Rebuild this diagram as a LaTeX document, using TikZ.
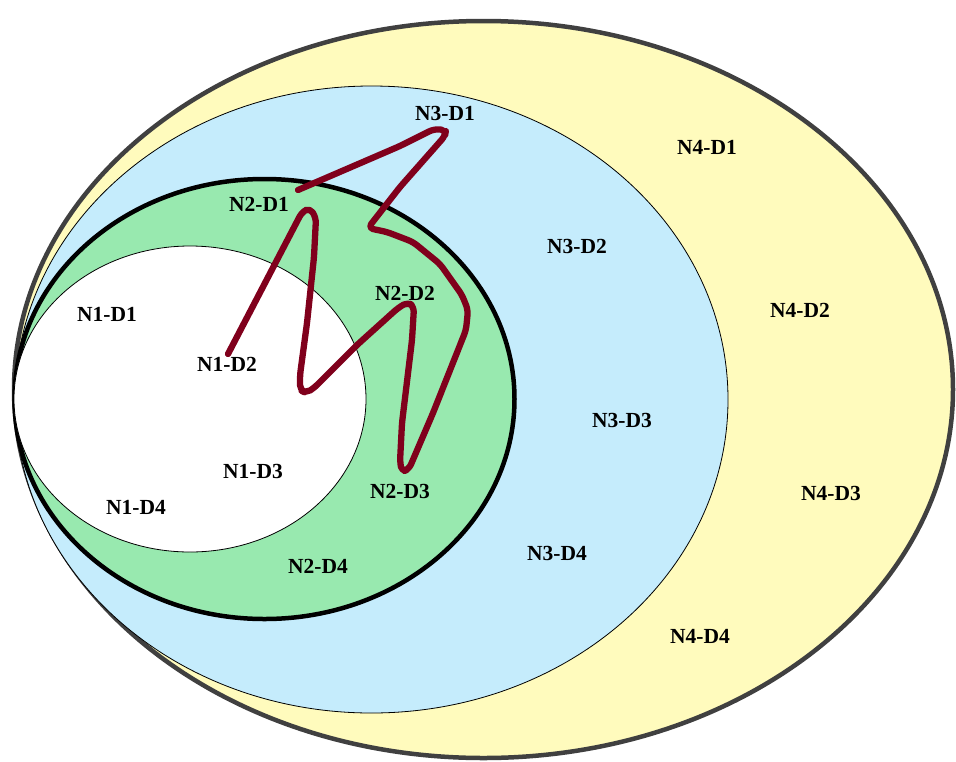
\documentclass[tikz,border=0pt]{standalone}
\usepackage{fontspec}
\setmainfont{Liberation Serif}
\definecolor{yel}{RGB}{255,251,189}
\definecolor{blu}{RGB}{197,236,252}
\definecolor{grn}{RGB}{152,233,175}
\definecolor{rim}{RGB}{64,64,64}
\definecolor{wine}{RGB}{128,0,28}
\begin{document}
\begin{tikzpicture}[x=1pt,y=-1pt,
  lab/.style={font=\fontsize{21.5}{21.5}\selectfont\bfseries, inner sep=0pt},
  path1/.style={draw=wine, line width=6.3pt, line cap=round, line join=round, rounded corners=5pt}]
\useasboundingbox (0,0) rectangle (956,761);
% ellipses
\filldraw[fill=yel, draw=rim, line width=4.5pt] (483.5,389.5) ellipse [x radius=469.5, y radius=368.5];
\filldraw[fill=blu, draw=black, line width=0.8pt] (371.5,399.5) ellipse [x radius=356.5, y radius=313.5];
\filldraw[fill=grn, draw=black, line width=4.5pt] (264.5,399) ellipse [x radius=250, y radius=220];
\filldraw[fill=white, draw=black, line width=0.8pt] (190,399) ellipse [x radius=176, y radius=153];
% labels
\node[lab] (n3d1) at (445,113) {N3-D1};
\node[lab] (n4d1) at (707,147) {N4-D1};
\node[lab] (n2d1) at (259,204) {N2-D1};
\node[lab] (n3d2) at (577,246) {N3-D2};
\node[lab] (n4d2) at (800,310) {N4-D2};
\node[lab] (n2d2) at (405,293) {N2-D2};
\node[lab] (n1d1) at (107,314) {N1-D1};
\node[lab] (n1d2) at (227,364) {N1-D2};
\node[lab] (n3d3) at (622,420) {N3-D3};
\node[lab] (n1d3) at (253,471) {N1-D3};
\node[lab] (n2d3) at (400,491) {N2-D3};
\node[lab] (n4d3) at (831,493) {N4-D3};
\node[lab] (n1d4) at (136,507) {N1-D4};
\node[lab] (n3d4) at (557,553) {N3-D4};
\node[lab] (n2d4) at (318,566) {N2-D4};
\node[lab] (n4d4) at (700,636) {N4-D4};
% path
\coordinate (s) at (228,354);
\coordinate (e) at (298,190);
\draw[path1] (s) -- (290,235) -- (302,212) -- (310,208) -- (316,218)
  -- (314,257) -- (307,323) -- (300,375) -- (300,390) -- (306,393) -- (314,388)
  -- (357,345) -- (398,308) -- (408,302) -- (414,307)
  -- (412,340) -- (402,423) -- (400,462) -- (402,472) -- (409,469)
  -- (433,413) -- (466,330) -- (468,310) -- (462,295) -- (440,264) -- (413,242)
  -- (387,232) -- (368,228) -- (400,187) -- (445,136) -- (446,130) -- (434,129)
  -- (400,146) -- (e);
\end{tikzpicture}
\end{document}
